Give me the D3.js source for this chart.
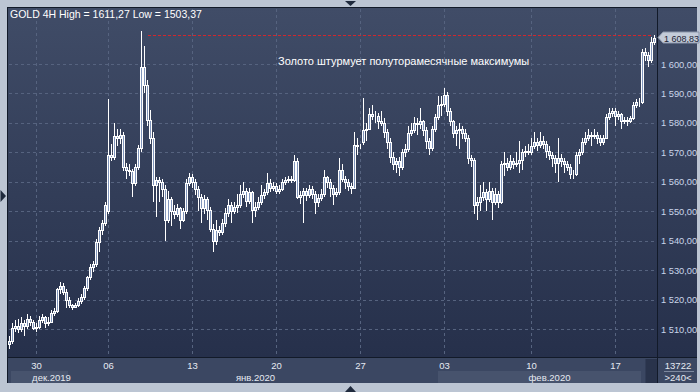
<!DOCTYPE html>
<html>
<head>
<meta charset="utf-8">
<style>
  body { margin: 0; background: #bcc5d3; }
  svg { display: block; font-family: "Liberation Sans", Arial, sans-serif; }
  .grid line { stroke: #56637f; stroke-dasharray: 3,3; shape-rendering: crispEdges; }
  .candle line, .candle rect { shape-rendering: crispEdges; }
</style>
<script src="https://d3js.org/d3.v7.min.js"></script>
</head>
<body>
<script>
// GOLD 4H bars (one value per bar)
var open = [
  1505.0,1506.0,1510.5,1511.0,1510.0,1512.0,1511.0,1513.5,1512.5,1510.5,1510.8,1513.0,
  1514.0,1512.0,1512.5,1515.5,1516.0,1523.5,1524.5,1522.5,1520.0,1518.0,1517.5,1518.0,
  1519.5,1521.0,1524.0,1527.5,1531.0,1532.0,1539.5,1543.5,1546.0,1550.0,1569.0,1568.5,
  1575.5,1575.0,1576.0,1565.0,1564.0,1563.5,1559.5,1565.0,1571.5,1599.0,1593.0,1581.0,
  1575.0,1559.0,1560.5,1560.0,1557.5,1547.0,1554.0,1550.0,1549.0,1551.0,1547.0,1550.0,
  1559.5,1561.5,1560.0,1557.5,1555.0,1551.0,1554.0,1550.5,1544.0,1540.0,1543.5,1543.0,
  1546.0,1549.5,1552.0,1550.0,1551.5,1552.0,1556.0,1557.0,1553.5,1556.5,1550.5,1551.5,
  1553.0,1555.5,1556.5,1559.5,1558.0,1558.5,1557.0,1557.5,1560.0,1560.5,1561.0,1560.5,
  1567.0,1555.0,1555.5,1557.0,1555.5,1557.5,1556.0,1553.0,1554.5,1556.0,1561.5,1560.0,
  1558.0,1556.0,1556.5,1564.0,1561.0,1560.0,1558.5,1558.0,1572.5,1572.0,1573.5,1577.5,
  1578.0,1583.0,1582.5,1582.5,1580.5,1580.0,1577.0,1573.5,1568.5,1566.0,1567.0,1565.0,
  1570.0,1571.0,1576.5,1577.5,1580.0,1579.5,1580.5,1577.5,1574.0,1571.5,1578.0,1582.0,
  1586.0,1586.5,1589.5,1584.0,1580.5,1576.5,1577.5,1578.0,1576.5,1575.0,1568.0,1567.5,
  1552.0,1553.0,1555.0,1556.5,1554.0,1557.0,1553.0,1556.0,1553.0,1566.0,1566.5,1565.0,
  1567.0,1566.0,1566.5,1567.5,1570.0,1570.5,1570.0,1572.0,1573.5,1572.5,1574.0,1573.0,
  1570.5,1569.0,1568.0,1566.5,1568.0,1567.0,1566.0,1565.0,1562.5,1562.5,1569.0,1570.0,
  1573.5,1575.0,1576.0,1575.5,1576.0,1575.0,1573.5,1575.0,1582.0,1583.5,1584.0,1582.5,
  1583.0,1580.5,1581.0,1580.5,1581.5,1586.0,1587.0,1587.0,1604.0,1603.0,1601.5,1607.5
];
var high = [
  1507.5,1512.0,1513.0,1513.5,1514.0,1513.0,1515.0,1514.5,1513.0,1512.0,1514.5,1515.0,
  1514.5,1514.0,1516.5,1517.0,1524.0,1526.0,1525.5,1523.5,1521.0,1518.5,1519.0,1520.5,
  1522.0,1524.5,1528.0,1532.0,1533.0,1540.5,1544.5,1547.0,1553.0,1588.0,1573.0,1580.0,
  1578.0,1578.0,1577.0,1566.5,1566.0,1564.5,1566.0,1572.5,1611.27,1606.0,1594.5,1584.5,
  1577.0,1561.5,1561.5,1561.0,1559.0,1557.0,1555.0,1552.0,1552.5,1551.5,1551.0,1561.0,
  1563.0,1562.5,1561.0,1558.5,1556.0,1555.5,1555.0,1551.5,1545.5,1547.0,1545.0,1547.5,
  1551.0,1554.0,1553.0,1553.0,1556.0,1559.0,1560.0,1558.0,1558.0,1557.0,1553.0,1555.0,
  1559.0,1557.5,1563.0,1561.0,1560.0,1559.5,1559.0,1561.0,1561.5,1562.0,1562.0,1569.0,
  1568.0,1557.0,1558.0,1558.0,1559.0,1558.5,1557.0,1556.0,1557.5,1564.0,1562.0,1561.0,
  1559.0,1558.0,1568.0,1566.0,1562.0,1561.0,1559.5,1577.0,1575.0,1573.0,1588.5,1580.0,
  1585.0,1586.0,1584.0,1583.5,1584.0,1581.5,1578.0,1575.0,1570.0,1568.0,1568.5,1571.0,
  1573.0,1579.0,1580.0,1582.0,1581.5,1585.0,1581.0,1578.5,1575.0,1579.0,1583.0,1589.0,
  1589.0,1592.0,1590.5,1585.0,1581.0,1579.0,1580.0,1579.0,1578.0,1576.0,1569.0,1568.0,
  1555.0,1559.0,1560.0,1557.5,1560.0,1558.0,1558.0,1557.0,1567.0,1570.0,1568.0,1569.0,
  1568.0,1570.0,1574.0,1571.0,1572.0,1573.0,1575.0,1577.0,1575.0,1577.0,1575.5,1574.0,
  1572.0,1570.0,1569.0,1575.0,1569.5,1568.0,1567.0,1566.0,1564.0,1570.0,1571.0,1575.0,
  1577.0,1578.0,1577.0,1578.0,1577.0,1576.0,1576.0,1583.0,1585.0,1585.0,1585.0,1584.0,
  1583.5,1582.0,1582.0,1582.5,1587.0,1588.0,1588.5,1605.0,1605.5,1604.0,1609.0,1610.0
];
var low = [
  1503.37,1505.0,1509.0,1508.5,1509.0,1507.5,1510.0,1511.0,1509.5,1509.0,1510.0,1512.0,
  1510.5,1511.0,1512.0,1514.5,1515.5,1522.0,1521.5,1517.0,1517.0,1516.5,1517.0,1517.5,
  1518.5,1520.0,1523.0,1526.5,1529.5,1531.0,1536.0,1542.0,1545.0,1549.0,1567.0,1567.5,
  1572.0,1573.0,1563.5,1561.0,1562.0,1555.0,1558.5,1564.0,1570.0,1590.0,1579.0,1573.0,
  1553.0,1548.0,1553.0,1555.0,1540.0,1546.0,1545.0,1547.5,1548.0,1544.0,1546.5,1549.0,
  1558.5,1558.0,1555.5,1550.0,1546.0,1549.0,1547.0,1543.0,1536.0,1538.5,1541.5,1542.0,
  1544.5,1548.0,1546.0,1549.0,1549.5,1551.0,1554.5,1551.5,1552.5,1546.0,1548.0,1550.5,
  1552.0,1554.0,1555.5,1556.5,1557.0,1556.0,1556.0,1557.0,1559.0,1559.5,1559.5,1560.0,
  1554.0,1552.5,1546.0,1553.5,1554.5,1554.0,1549.0,1551.5,1553.5,1555.0,1558.0,1555.0,
  1552.0,1555.0,1555.5,1560.0,1557.5,1557.0,1556.0,1557.5,1569.0,1571.0,1572.5,1574.0,
  1577.5,1581.0,1580.0,1578.0,1579.0,1575.0,1571.0,1566.5,1564.0,1563.0,1562.0,1564.0,
  1568.5,1570.0,1575.5,1576.5,1576.0,1578.0,1575.5,1571.0,1569.0,1570.5,1577.0,1581.0,
  1582.5,1585.5,1582.5,1579.0,1575.0,1572.0,1571.0,1574.5,1573.5,1566.0,1565.0,1549.0,
  1547.0,1550.0,1553.5,1550.0,1553.0,1547.0,1552.0,1551.0,1552.5,1562.0,1563.5,1564.0,
  1564.5,1565.0,1563.0,1564.0,1568.5,1569.0,1569.0,1571.0,1570.5,1571.5,1571.0,1568.0,
  1567.5,1565.0,1563.0,1560.0,1565.0,1563.0,1563.5,1561.0,1561.0,1562.0,1566.0,1569.0,
  1572.5,1574.0,1572.0,1574.5,1573.0,1572.0,1572.5,1574.5,1581.0,1582.0,1579.0,1581.0,
  1578.0,1579.5,1579.0,1580.0,1581.0,1585.0,1585.5,1586.5,1601.0,1599.0,1600.5,1606.5
];
var close = [
  1506.0,1510.5,1511.0,1510.0,1512.0,1511.0,1513.5,1512.5,1510.5,1510.8,1513.0,1514.0,
  1512.0,1512.5,1515.5,1516.0,1523.5,1524.5,1522.5,1520.0,1518.0,1517.5,1518.0,1519.5,
  1521.0,1524.0,1527.5,1531.0,1532.0,1539.5,1543.5,1546.0,1552.0,1569.0,1568.5,1575.5,
  1575.0,1576.0,1565.0,1564.0,1563.5,1559.5,1565.0,1571.5,1599.0,1593.0,1581.0,1575.0,
  1559.0,1560.5,1560.0,1557.5,1547.0,1554.0,1550.0,1549.0,1551.0,1547.0,1550.0,1559.5,
  1561.5,1560.0,1557.5,1555.0,1551.0,1554.0,1550.5,1544.0,1540.0,1543.5,1543.0,1546.0,
  1549.5,1552.0,1550.0,1551.5,1552.0,1556.0,1557.0,1553.5,1556.5,1550.5,1551.5,1553.0,
  1555.5,1556.5,1559.5,1558.0,1558.5,1557.0,1557.5,1560.0,1560.5,1561.0,1560.5,1567.0,
  1555.0,1555.5,1557.0,1555.5,1557.5,1556.0,1553.0,1554.5,1556.0,1561.5,1560.0,1558.0,
  1556.0,1556.5,1564.0,1561.0,1560.0,1558.5,1558.0,1572.5,1572.0,1572.0,1577.5,1578.0,
  1583.0,1582.5,1582.5,1580.5,1580.0,1577.0,1573.5,1568.5,1566.0,1567.0,1565.0,1570.0,
  1571.0,1576.5,1577.5,1580.0,1579.5,1580.5,1577.5,1574.0,1571.5,1578.0,1582.0,1586.0,
  1586.5,1589.5,1584.0,1580.5,1576.5,1577.5,1578.0,1576.5,1575.0,1568.0,1567.5,1552.0,
  1553.0,1555.0,1556.5,1554.0,1557.0,1553.0,1556.0,1553.0,1566.0,1566.5,1565.0,1567.0,
  1566.0,1566.5,1567.5,1570.0,1570.5,1570.0,1572.0,1573.5,1572.5,1574.0,1573.0,1570.5,
  1569.0,1568.0,1566.5,1568.0,1567.0,1566.0,1565.0,1562.5,1562.5,1569.0,1570.0,1573.5,
  1575.0,1576.0,1575.5,1576.0,1575.0,1573.5,1575.0,1582.0,1583.5,1584.0,1582.5,1583.0,
  1580.5,1581.0,1580.5,1581.5,1586.0,1587.0,1587.0,1604.0,1603.0,1601.5,1607.5,1608.83
];

// x axis: day labels and the bar index they sit on
var dayLabels = ["30", "06", "13", "20", "27", "03", "10", "17"];
var dayIndex  = [9, 33, 61, 89, 117, 145, 174, 202];
var monthLabels = ["дек.2019", "янв.2020", "фев.2020"];
var monthIndex  = [14, 82, 180];
// y axis ticks
var priceTicks = [1510, 1520, 1530, 1540, 1550, 1560, 1570, 1580, 1590, 1600];
var lastPrice = 1608.83;
var markLevel = 1610;

var W = 700, H = 392;
var plot = { left: 8, top: 8, right: 657, bottom: 357 };

var x = d3.scaleLinear().domain([0, 215]).range([9.5, 654.5]);
var y = d3.scaleLinear().domain([1510, 1600]).range([329, 64]);

var ru = d3.formatLocale({ decimal: ",", thousands: " ", grouping: [3], currency: ["", ""] });
var fmt = ru.format(",.2f");

var svg = d3.select("body").append("svg")
  .attr("width", W)
  .attr("height", H);

var defs = svg.append("defs");
var grad = defs.append("linearGradient")
  .attr("id", "bg").attr("x1", 0).attr("y1", 0).attr("x2", 0).attr("y2", 1);
grad.append("stop").attr("offset", "0%").attr("stop-color", "#404c67");
grad.append("stop").attr("offset", "100%").attr("stop-color", "#26304b");

// outer frame
svg.append("rect").attr("width", W).attr("height", H).attr("fill", "#bcc5d3");

// plot + right axis panel background
svg.append("rect")
  .attr("x", plot.left).attr("y", plot.top)
  .attr("width", 697 - plot.left).attr("height", plot.bottom - plot.top)
  .attr("fill", "url(#bg)");

// bottom axis strip
svg.append("rect")
  .attr("x", plot.left).attr("y", plot.bottom)
  .attr("width", 697 - plot.left).attr("height", 383 - plot.bottom)
  .attr("fill", "#3b4762");

// month boxes (lighter bands under the month names)
svg.append("rect")
  .attr("x", x(0) + 1.5).attr("y", 371)
  .attr("width", x(19) - x(0)).attr("height", 12)
  .attr("fill", "#47536d");
svg.append("rect")
  .attr("x", x(144) - 3.5).attr("y", 371)
  .attr("width", x(211) - x(144) + 2).attr("height", 12)
  .attr("fill", "#47536d");
svg.append("rect")
  .attr("x", x(212)).attr("y", 359)
  .attr("width", plot.right - x(212)).attr("height", 24)
  .attr("fill", "#29334b");

// grid
var grid = svg.append("g").attr("class", "grid");
grid.selectAll(".h").data(priceTicks).enter().append("line")
  .attr("x1", plot.left + 1).attr("x2", plot.right)
  .attr("y1", function(d) { return Math.round(y(d)) + 0.5; })
  .attr("y2", function(d) { return Math.round(y(d)) + 0.5; });
grid.selectAll(".v").data(dayIndex).enter().append("line")
  .attr("x1", function(d) { return x(d); }).attr("x2", function(d) { return x(d); })
  .attr("y1", plot.top + 1).attr("y2", plot.bottom);

// red level line
svg.append("line")
  .attr("x1", x(46)).attr("x2", x(214))
  .attr("y1", Math.round(y(markLevel)) + 0.5).attr("y2", Math.round(y(markLevel)) + 0.5)
  .attr("stroke", "#d3262b")
  .attr("stroke-dasharray", "3,2")
  .style("shape-rendering", "crispEdges");

// candles
var bars = d3.range(close.length);
var candle = svg.append("g").attr("class", "candle")
  .selectAll("g").data(bars).enter().append("g");

candle.append("line")
  .attr("x1", function(i) { return x(i); })
  .attr("x2", function(i) { return x(i); })
  .attr("y1", function(i) { return Math.round(y(high[i])); })
  .attr("y2", function(i) { return Math.round(y(low[i])); })
  .attr("stroke", "#ffffff");

candle.append("rect")
  .attr("x", function(i) { return x(i) - 1; })
  .attr("width", 2)
  .attr("y", function(i) { return Math.round(y(Math.max(open[i], close[i]))) + 0.5; })
  .attr("height", function(i) {
    return Math.max(0, Math.round(y(Math.min(open[i], close[i]))) - Math.round(y(Math.max(open[i], close[i]))));
  })
  .attr("fill", "#8196bd")
  .attr("stroke", "#ffffff");

// panel borders
var border = svg.append("g").attr("stroke", "#121a29").style("shape-rendering", "crispEdges");
border.append("line").attr("x1", plot.left - 0.5).attr("x2", plot.left - 0.5).attr("y1", plot.top - 1).attr("y2", 383);
border.append("line").attr("x1", plot.left - 1).attr("x2", 697).attr("y1", plot.top - 0.5).attr("y2", plot.top - 0.5);
border.append("line").attr("x1", plot.right + 0.5).attr("x2", plot.right + 0.5).attr("y1", plot.top).attr("y2", 383);
border.append("line").attr("x1", plot.left).attr("x2", 697).attr("y1", plot.bottom + 0.5).attr("y2", plot.bottom + 0.5);

// y axis labels
svg.append("g").selectAll("text").data(priceTicks).enter().append("text")
  .attr("x", 661)
  .attr("y", function(d) { return y(d) + 3.5; })
  .attr("fill", "#cad5ea")
  .style("font-size", "9.3px")
  .text(function(d) { return fmt(d); });

// last price tag
var ty = Math.round(y(lastPrice));
svg.append("path")
  .attr("d", "M658," + (ty - 0.5) + "L663," + (ty - 6) + "H699V" + (ty + 5) + "H663Z")
  .attr("fill", "#c4ccd9")
  .attr("stroke", "#8a95aa");
svg.append("text")
  .attr("x", 664).attr("y", ty + 3.5)
  .attr("fill", "#1b2335")
  .style("font-size", "9px")
  .text(fmt(lastPrice));

// x axis labels
svg.append("g").selectAll("text").data(dayLabels).enter().append("text")
  .attr("x", function(d, k) { return x(dayIndex[k]); })
  .attr("y", 369)
  .attr("text-anchor", "middle")
  .attr("fill", "#e6eaf2")
  .style("font-size", "9.5px")
  .text(function(d) { return d; });
svg.append("g").selectAll("text").data(monthLabels).enter().append("text")
  .attr("x", function(d, k) { return x(monthIndex[k]); })
  .attr("y", 380.5)
  .attr("text-anchor", "middle")
  .attr("fill", "#e6eaf2")
  .style("font-size", "9.5px")
  .text(function(d) { return d; });

// bar count / timeframe box
svg.append("text").attr("x", 678).attr("y", 369).attr("text-anchor", "middle")
  .attr("fill", "#e6eaf2").style("font-size", "9.5px").text("13722");
svg.append("line").attr("x1", 664).attr("x2", 694).attr("y1", 371.5).attr("y2", 371.5)
  .attr("stroke", "#7d889e");
svg.append("text").attr("x", 678).attr("y", 381).attr("text-anchor", "middle")
  .attr("fill", "#e6eaf2").style("font-size", "9.5px").text(">240<");

// titles
svg.append("text")
  .attr("x", 10).attr("y", 18)
  .attr("fill", "#ffffff")
  .style("font-size", "10.5px")
  .text("GOLD 4H  High = 1611,27 Low = 1503,37");
svg.append("text")
  .attr("x", 278).attr("y", 65)
  .attr("fill", "#ffffff")
  .style("font-size", "11px")
  .text("Золото штурмует полуторамесячные максимумы");

// scroll arrows in the frame
var tri = svg.append("g").attr("fill", "#1f2a3d");
tri.append("path").attr("d", "M345,1H356L350.5,6Z");
tri.append("path").attr("d", "M0.5,190V202L6,196Z");
tri.append("path").attr("d", "M345,392H356L350.5,386Z");
</script>
</body>
</html>
